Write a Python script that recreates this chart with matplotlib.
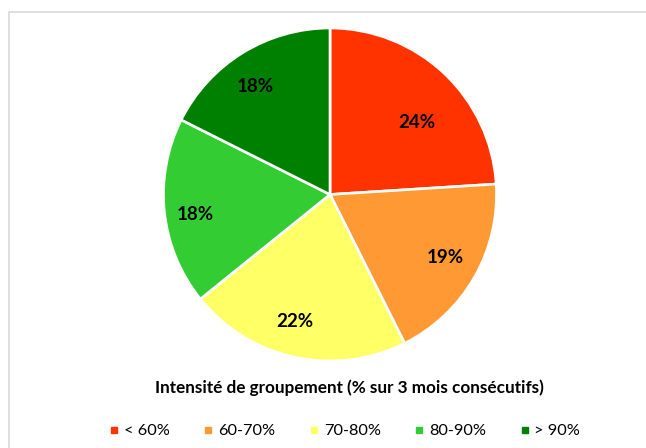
import numpy as np
import matplotlib
matplotlib.use("Agg")
import matplotlib.pyplot as plt
from matplotlib.patches import Rectangle
from matplotlib.lines import Line2D

plt.rcParams['font.family'] = ['Lato', 'DejaVu Sans']

categories = ["< 60%", "60-70%", "70-80%", "80-90%", "> 90%"]
shares = [24.0, 18.6, 21.6, 18.2, 17.6]
colors = ["#FF3300", "#FF9933", "#FFFF66", "#33CC33", "#008000"]
title = "Intensité de groupement (% sur 3 mois consécutifs)"

W, H = 646, 448
fig = plt.figure(figsize=(W / 100, H / 100), dpi=100)

# light frame around the chart area
fig.patches.append(Rectangle((9 / W, -0.1), 1.2, (H - 12) / H + 0.1,
                             transform=fig.transFigure, fill=False,
                             edgecolor="#D9D9D9", linewidth=1.2))

cx, cy, r = 330, 194.5, 166.5
ax = fig.add_axes([(cx - r) / W, (H - cy - r) / H, 2 * r / W, 2 * r / H])
wedges, _, autotexts = ax.pie(shares, colors=colors, startangle=90, counterclock=False,
                              autopct="%.0f%%", radius=1,
                              wedgeprops=dict(edgecolor="white", linewidth=1.9),
                              textprops=dict(fontsize=13.5, fontweight="bold", color="black"))
# label placement like Excel's best-fit (axes units, relative to the pie centre)
label_pos = [(0.52, 0.43), (0.69, -0.38), (-0.21, -0.76), (-0.81, -0.12), (-0.45, 0.65)]
for t, p in zip(autotexts, label_pos):
    t.set_position(p)
ax.set_xlim(-1, 1)
ax.set_ylim(-1, 1)
ax.set_aspect("equal")

fig.text(349 / W, 1 - 388 / H, title, ha="center", va="center",
         fontsize=12.3, fontweight="bold")

handles = [Line2D([], [], marker="s", linestyle="none", markersize=5,
                  markerfacecolor=c, markeredgecolor=c) for c in colors]
fig.legend(handles, categories, loc="center", bbox_to_anchor=(344 / W, 1 - 431 / H),
           ncol=5, frameon=False, fontsize=11.8, handletextpad=0.2,
           columnspacing=1.95, handlelength=0.8)

fig.savefig("out.png", dpi=100)
